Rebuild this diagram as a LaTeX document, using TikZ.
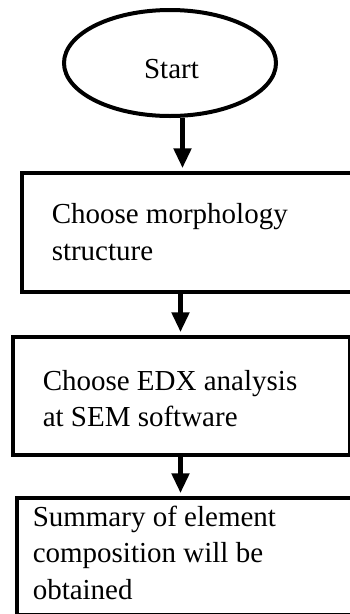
\documentclass[tikz,border=0pt]{standalone}
\usepackage{fontspec}
\setmainfont{Liberation Serif}
\usetikzlibrary{arrows.meta,shapes.geometric}
\tikzset{
  terminal/.style={ellipse, draw=black, line width=4pt, inner sep=0pt,
    minimum width=212pt, minimum height=106pt},
  stepbox/.style={rectangle, draw=black, line width=4.5pt, anchor=north west,
    align=left, inner ysep=0pt},
  txt/.style={font=\fontsize{29}{36.5}\selectfont,
    execute at begin node={\spaceskip=0pt\xspaceskip=0pt}},
  flow/.style={line width=5pt, -{Triangle[width=17pt,length=20pt]}, shorten >=2.25pt}
}
\begin{document}
\begin{tikzpicture}[x=1pt,y=-1pt]
\useasboundingbox (0,0) rectangle (350,614);
\node[terminal] (start) at (170,63) {};
\node[txt] (starttext) at (171.5,69) {Start};
\node[stepbox, txt, inner xsep=30pt, text width=340pt, minimum height=119pt]
  (b1) at (19.5,170.5) {Choose morphology\\structure};
\node[stepbox, txt, inner xsep=30pt, text width=277pt, minimum height=118pt]
  (b2) at (10.5,334.5) {\rule{0pt}{26pt}Choose EDX analysis\\at SEM software};
\node[stepbox, txt, inner xsep=16pt, text width=368pt, minimum height=117.5pt]
  (b3) at (14.5,495.5) {Summary of element\\composition will be\\obtained\rule[-8pt]{0pt}{8pt}};
\coordinate (c1) at (182.5,0);
\coordinate (c2) at (180.5,0);
\draw[flow] (start.south -| c1) -- (b1.north -| c1);
\draw[flow] (b1.south -| c2) -- (b2.north -| c2);
\draw[flow] (b2.south -| c2) -- (b3.north -| c2);
\end{tikzpicture}
\end{document}
